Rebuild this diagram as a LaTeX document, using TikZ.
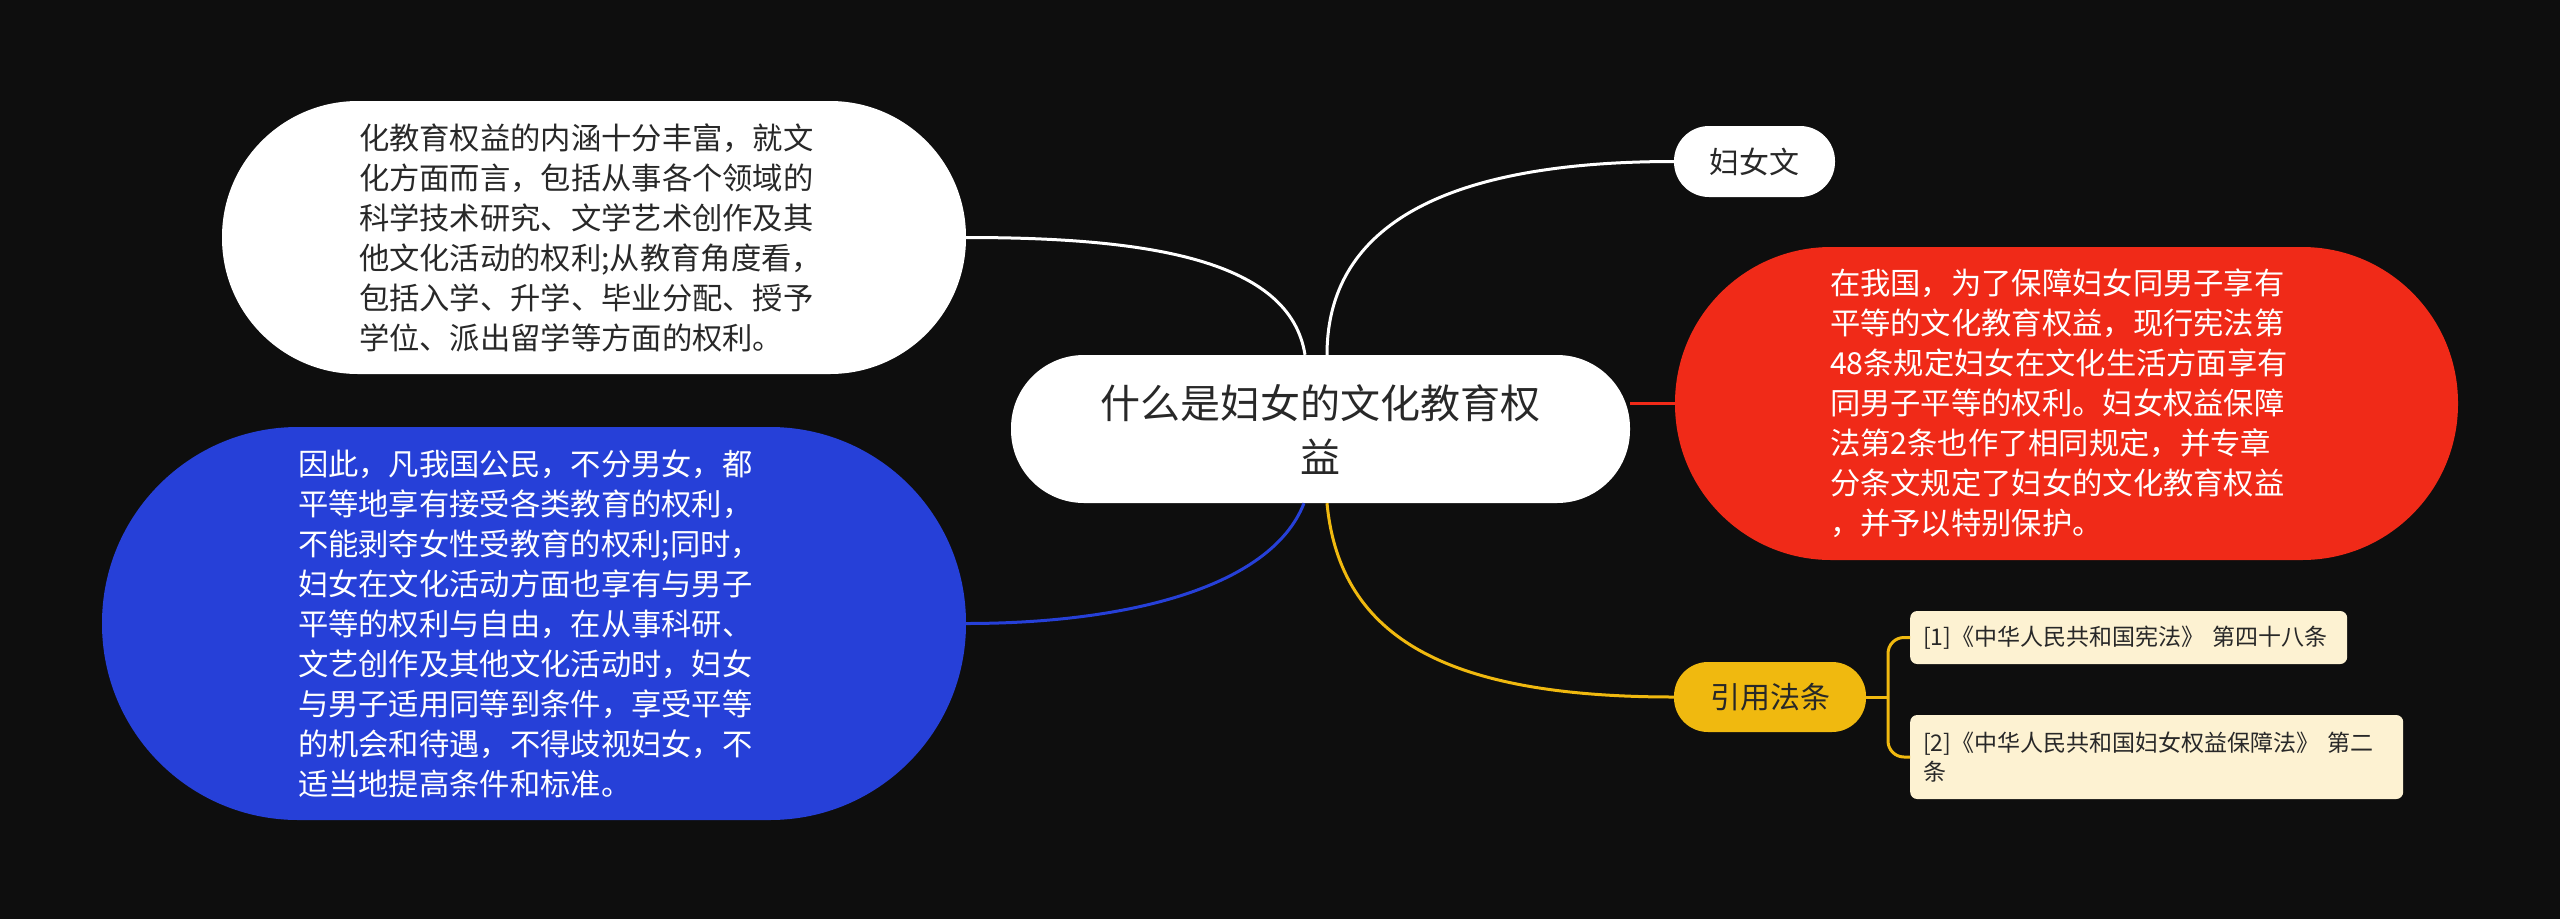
\documentclass[tikz,border=0pt]{standalone}
\usepackage{fontspec}
\setmainfont{Noto Sans CJK SC}
\usepackage{tikz}
\definecolor{BgDark}{RGB}{14, 14, 14}
\definecolor{NodeBlue}{RGB}{38, 64, 216}
\definecolor{NodeRed}{RGB}{240, 42, 24}
\definecolor{LawGold}{RGB}{240, 185, 15}
\definecolor{RefCream}{RGB}{253, 242, 210}
\definecolor{InkDark}{RGB}{40, 40, 40}

\begin{document}
\begin{tikzpicture}[x=1pt, y=-1pt,
    pill/.style={rectangle, inner ysep=0pt, text=InkDark},
    bigtext/.style={font=\fontsize{30.3}{40}\selectfont, align=left},
    link/.style={line width=3pt},
    refbox/.style={rectangle, rounded corners=7pt, fill=RefCream, text=InkDark, align=left,
        inner xsep=13pt, inner ysep=0pt, font=\fontsize{23}{29}\selectfont}]
    % 背景
    \fill[BgDark] (0,0) rectangle (2560,919);
    \useasboundingbox (0,0) rectangle (2560,919);

    % 中心主题
    \node[pill, fill=white, minimum width=619pt, minimum height=148pt, rounded corners=73pt,
        align=center, font=\fontsize{40}{54}\selectfont] (root) at (1320.5,429) {什么是妇女的文化教育权\\益};

    % 左侧两个分支
    \node[pill, fill=white, bigtext, inner xsep=137pt, text width=470pt, minimum height=273pt,
        rounded corners=136pt] (culture) at (594,237.5) {化教育权益的内涵十分丰富，就文\\化方面而言，包括从事各个领域的\\科学技术研究、文学艺术创作及其\\他文化活动的权利;从教育角度看，\\包括入学、升学、毕业分配、授予\\学位、派出留学等方面的权利。};
    \node[pill, fill=NodeBlue, text=white, bigtext, inner xsep=196pt, text width=472pt, minimum height=393pt,
        rounded corners=196pt] (equal) at (534,623.5) {因此，凡我国公民，不分男女，都\\平等地享有接受各类教育的权利，\\不能剥夺女性受教育的权利;同时，\\妇女在文化活动方面也享有与男子\\平等的权利与自由，在从事科研、\\文艺创作及其他文化活动时，妇女\\与男子适用同等到条件，享受平等\\的机会和待遇，不得歧视妇女，不\\适当地提高条件和标准。};

    % 右侧分支
    \node[pill, fill=white, font=\fontsize{30}{36}\selectfont, minimum width=161pt, minimum height=71pt,
        rounded corners=35pt] (fuwen) at (1754.5,161.5) {妇女文};
    \node[pill, fill=NodeRed, text=white, bigtext, inner xsep=155pt, text width=473pt, minimum height=313pt,
        rounded corners=156pt] (law) at (2066.5,403.5) {在我国，为了保障妇女同男子享有\\平等的文化教育权益，现行宪法第\\48条规定妇女在文化生活方面享有\\同男子平等的权利。妇女权益保障\\法第2条也作了相同规定，并专章\\分条文规定了妇女的文化教育权益\\，并予以特别保护。};
    \node[pill, fill=LawGold, font=\fontsize{30}{36}\selectfont, minimum width=192pt, minimum height=70pt,
        rounded corners=34pt] (cite) at (1770,697) {引用法条};

    % 引用条目
    \node[refbox, text width=411pt, minimum height=53pt, anchor=west] (refA) at (1910,637.5) {[1]《中华人民共和国宪法》 第四十八条};
    \node[refbox, text width=467pt, minimum height=84pt, anchor=west] (refB) at (1910,757) {[2]《中华人民共和国妇女权益保障法》 第二\\条};

    % 连线
    \draw[link, white] ([xshift=6.5pt]root.north) .. controls (1327,240) and (1420,161.5) .. (fuwen.west);
    \draw[link, white] ([xshift=-15.5pt]root.north) .. controls (1290,260) and (1150,237.5) .. (culture.east);
    \draw[link, NodeRed] (root.east |- law.west) -- (law.west);
    \draw[link, NodeBlue] ([xshift=-16.5pt]root.south) .. controls (1270,590) and (1120,623.5) .. (equal.east);
    \draw[link, LawGold] ([xshift=6.5pt]root.south) .. controls (1340,640) and (1450,697) .. (cite.west);

    % 括号式分叉
    \coordinate (fork) at (1888,697);
    \draw[link, LawGold] (cite.east) -- (fork);
    \draw[link, LawGold, rounded corners=16pt] (refA.west) -| (fork) |- (refB.west);
\end{tikzpicture}
\end{document}
